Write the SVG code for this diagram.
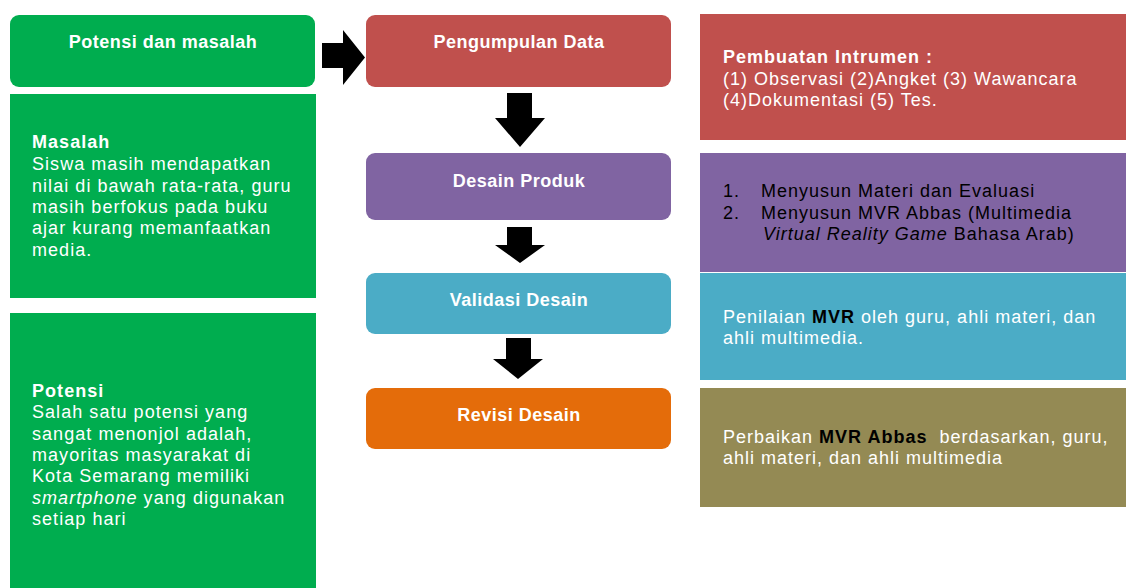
<svg xmlns="http://www.w3.org/2000/svg" width="1126" height="588" viewBox="0 0 1126 588">
<style>
text{font-family:"Liberation Sans",Arial,sans-serif;white-space:pre;}
.t{font-size:18px;font-weight:bold;fill:#fff;text-anchor:middle;letter-spacing:0.5px;}
.w{font-size:18px;fill:#fff;letter-spacing:1.05px;}
.r{font-size:18px;fill:#fff;letter-spacing:1px;}
.k{font-size:18px;fill:#000;letter-spacing:1px;}
.b{font-weight:bold;}
.i{font-style:italic;}
.arr{fill:#000;}
</style>
<rect width="1126" height="588" fill="#fff"/>
<g id="potensi-masalah">
<rect x="10" y="15" width="305" height="72" rx="9" fill="#00AD4F"/>
<text class="t" x="163" y="48">Potensi dan masalah</text>
</g>
<g id="masalah">
<rect x="10" y="94" width="306" height="204" fill="#00AD4F"/>
<text class="w" x="32" y="148"><tspan class="b">Masalah</tspan><tspan x="32" y="170">Siswa masih mendapatkan</tspan><tspan x="32" y="191.5">nilai di bawah rata-rata, guru</tspan><tspan x="32" y="213">masih berfokus pada buku</tspan><tspan x="32" y="234">ajar kurang memanfaatkan</tspan><tspan x="32" y="255.5">media.</tspan></text>
</g>
<g id="potensi">
<rect x="10" y="313" width="306" height="275" fill="#00AD4F"/>
<text class="w" x="32" y="397"><tspan class="b">Potensi</tspan><tspan x="32" y="418">Salah satu potensi yang</tspan><tspan x="32" y="439.5">sangat menonjol adalah,</tspan><tspan x="32" y="461">mayoritas masyarakat di</tspan><tspan x="32" y="482">Kota Semarang memiliki</tspan><tspan x="32" y="503.5"><tspan class="i">smartphone</tspan> yang digunakan</tspan><tspan x="32" y="525">setiap hari</tspan></text>
</g>
<g id="pengumpulan-data">
<rect x="366" y="15" width="305" height="72" rx="9" fill="#C0504D"/>
<text class="t" x="519" y="48">Pengumpulan Data</text>
</g>
<g id="desain-produk">
<rect x="366" y="153" width="305" height="67" rx="9" fill="#8064A2"/>
<text class="t" x="519" y="187">Desain Produk</text>
</g>
<g id="validasi-desain">
<rect x="366" y="273" width="305" height="61" rx="9" fill="#4BACC6"/>
<text class="t" x="519" y="306">Validasi Desain</text>
</g>
<g id="revisi-desain">
<rect x="366" y="388" width="305" height="61" rx="9" fill="#E46C0A"/>
<text class="t" x="519" y="421">Revisi Desain</text>
</g>
<g id="instrumen">
<rect x="700" y="14" width="426" height="126" fill="#C0504D"/>
<text class="r" x="723" y="63"><tspan class="b">Pembuatan Intrumen :</tspan><tspan x="723" y="84.5">(1) Observasi (2)Angket (3) Wawancara</tspan><tspan x="723" y="106">(4)Dokumentasi (5) Tes.</tspan></text>
</g>
<g id="menyusun">
<rect x="700" y="153" width="426" height="119" fill="#8064A2"/>
<text class="k" x="723" y="197">1.</text>
<text class="k" x="723" y="218.5">2.</text>
<text class="k" x="761" y="197">Menyusun Materi dan Evaluasi</text>
<text class="k" x="761" y="218.5">Menyusun MVR Abbas (Multimedia</text>
<text class="k" x="763" y="240"><tspan class="i">Virtual Reality Game</tspan> Bahasa Arab)</text>
</g>
<g id="penilaian">
<rect x="700" y="273" width="426" height="107" fill="#4BACC6"/>
<text class="r" x="723" y="323">Penilaian <tspan class="b" fill="#000">MVR</tspan> oleh guru, ahli materi, dan<tspan x="723" y="344">ahli multimedia.</tspan></text>
</g>
<g id="perbaikan">
<rect x="700" y="388" width="426" height="119" fill="#948A54"/>
<text class="r" x="723" y="443">Perbaikan <tspan class="b" fill="#000">MVR Abbas</tspan>  berdasarkan, guru,<tspan x="723" y="464">ahli materi, dan ahli multimedia</tspan></text>
</g>
<g id="connectors">
<polygon class="arr" points="322,43 343,43 343,30 365,57.5 343,85 343,68 322,68"/>
<polygon class="arr" points="507,93 532,93 532,118 545,118 520,147 495,118 507,118"/>
<polygon class="arr" points="507,227 532,227 532,245 545,245 520,263 495,245 507,245"/>
<polygon class="arr" points="506,338 531,338 531,359 543,359 518,379 493,359 506,359"/>
</g>
</svg>
